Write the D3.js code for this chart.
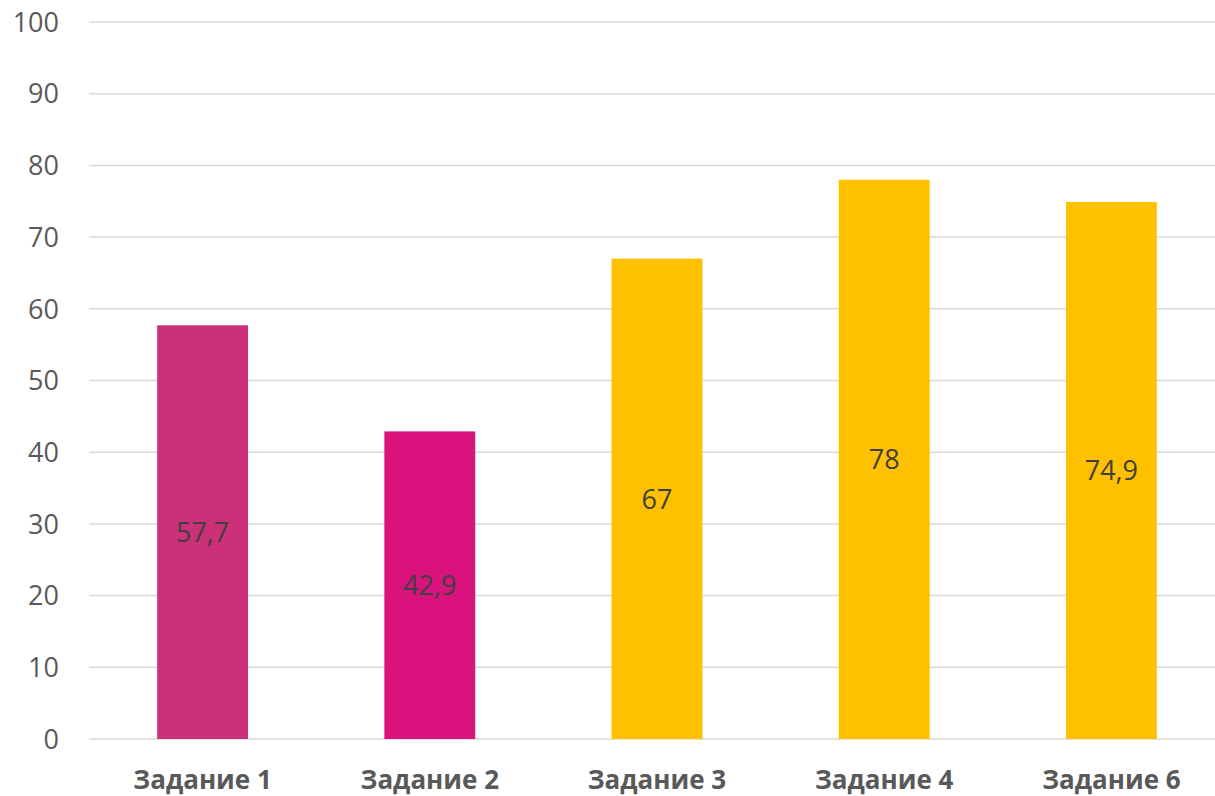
<!DOCTYPE html>
<html><head><meta charset="utf-8">
<script src="https://cdn.jsdelivr.net/npm/d3@7"></script>
<style>body{margin:0;background:#fff}svg{display:block}</style>
</head><body><svg id="c" width="1215" height="796"></svg>
<script>
const categories = ["Задание 1","Задание 2","Задание 3","Задание 4","Задание 6"];
const values = [57.7, 42.9, 67, 78, 74.9];
const valueLabels = ["57,7","42,9","67","78","74,9"];
const colors = ["#CC3079","#D9127E","#FFC000","#FFC000","#FFC000"];
const yTicks = [0,10,20,30,40,50,60,70,80,90,100];

const svg = d3.select("#c");
const font = "'Open Sans', sans-serif";
const x = d3.scaleBand().domain(categories).range([89,1225]).paddingInner(0.6).paddingOuter(0.3);
const y = d3.scaleLinear().domain([0,100]).range([739,22]);

svg.append("g").selectAll("line").data(yTicks).join("line")
  .attr("x1",89).attr("x2",1215).attr("y1",d=>y(d)).attr("y2",d=>y(d))
  .attr("stroke","#d9d9d9").attr("stroke-width",1.5);

svg.append("g").selectAll("text").data(yTicks).join("text")
  .attr("x",59).attr("y",d=>y(d)).attr("dy","0.36em").attr("text-anchor","end")
  .attr("font-family",font).attr("font-size",27).attr("fill","#595959").text(d=>d);

svg.append("g").selectAll("rect").data(values).join("rect")
  .attr("x",(d,i)=>x(categories[i])).attr("width",x.bandwidth())
  .attr("y",d=>y(d)).attr("height",d=>y(0)-y(d)).attr("fill",(d,i)=>colors[i]);

svg.append("g").selectAll("text").data(values).join("text")
  .attr("x",(d,i)=>x(categories[i])+x.bandwidth()/2)
  .attr("y",d=>(y(d)+y(0))/2).attr("dy","0.36em").attr("text-anchor","middle")
  .attr("font-family",font).attr("font-size",27).attr("fill","#404040")
  .text((d,i)=>valueLabels[i]);

svg.append("g").selectAll("text").data(categories).join("text")
  .attr("x",d=>x(d)+x.bandwidth()/2).attr("y",789).attr("text-anchor","middle")
  .attr("font-family",font).attr("font-size",26).attr("font-weight","bold").attr("fill","#595959")
  .text(d=>d);
</script></body></html>
